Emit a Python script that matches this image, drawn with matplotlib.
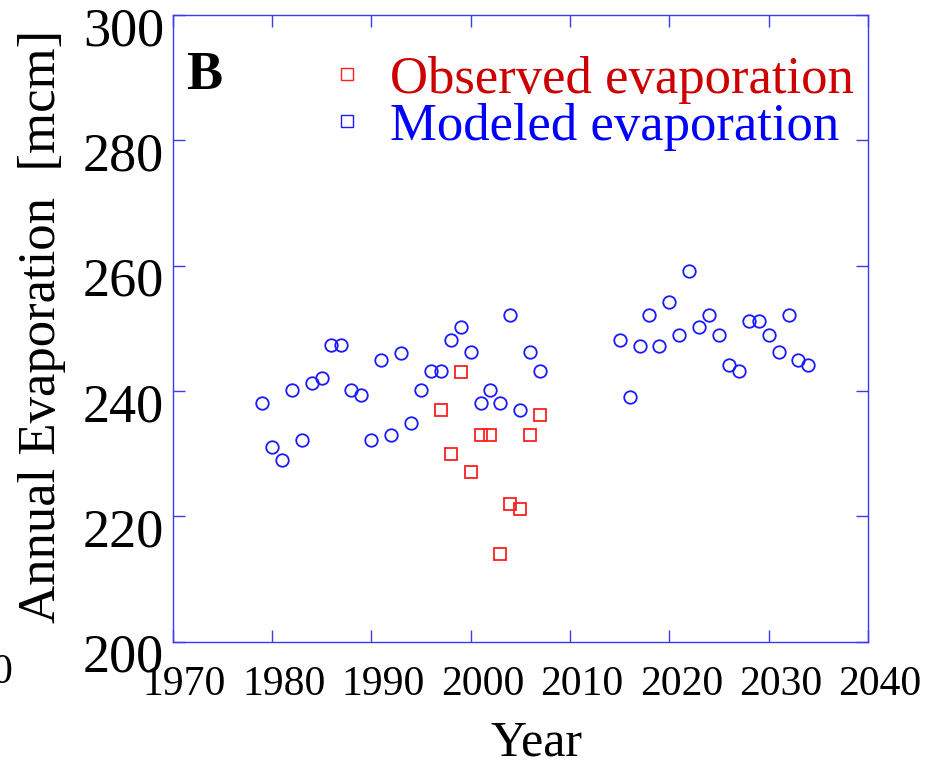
import matplotlib
matplotlib.use("Agg")
import matplotlib.pyplot as plt
from matplotlib.lines import Line2D
from matplotlib.transforms import ScaledTranslation

plt.rcParams["font.family"] = ["Liberation Serif", "DejaVu Serif"]

# modeled evaporation, two periods
mod_years_a = [1979, 1980, 1981, 1982, 1983, 1984, 1985, 1986, 1987, 1988,
               1989, 1990, 1991, 1992, 1993, 1994, 1995, 1996, 1997, 1998,
               1999, 2000, 2001, 2002, 2003, 2004, 2005, 2006, 2007]
mod_vals_a = [238.1, 231.1, 229.0, 240.1, 232.2, 241.2, 242.0, 247.3, 247.3, 240.1,
              239.3, 232.2, 245.0, 232.9, 246.0, 234.9, 240.1, 243.1, 243.1, 248.1,
              250.2, 246.2, 238.1, 240.1, 238.1, 252.1, 237.0, 246.2, 243.1]
mod_years_b = [2015, 2016, 2017, 2018, 2019, 2020, 2021, 2022, 2023, 2024,
               2025, 2026, 2027, 2028, 2029, 2030, 2031, 2032, 2033, 2034]
mod_vals_b = [248.1, 239.1, 247.1, 252.1, 247.1, 254.2, 249.0, 259.1, 250.2, 252.1,
              249.0, 244.1, 243.1, 251.1, 251.1, 249.0, 246.2, 252.1, 245.0, 244.1]

# observed evaporation
obs_years = [1997, 1998, 1999, 2000, 2001, 2002, 2003, 2004, 2005, 2006, 2007]
obs_vals = [237.0, 230.0, 243.0, 227.0, 233.0, 233.0, 214.0, 222.0, 221.1, 233.0, 236.1]

x_ticks = [1970, 1980, 1990, 2000, 2010, 2020, 2030, 2040]
y_ticks = [200, 220, 240, 260, 280, 300]

blue = "#1a1aff"
red = "#ff2020"
axis_blue = "#3a3af0"

fig = plt.figure(figsize=(9.36, 7.65), dpi=100)
ax = fig.add_axes([0.1843, 0.1614, 0.7431, 0.819])

ax.plot(mod_years_a + mod_years_b, mod_vals_a + mod_vals_b, linestyle="none",
        marker="o", markersize=9, markerfacecolor="none",
        markeredgecolor=blue, markeredgewidth=1.3)
ax.plot(obs_years, obs_vals, linestyle="none", marker="s", markersize=9,
        markerfacecolor="none", markeredgecolor=red, markeredgewidth=1.3)

ax.set_xlim(1970, 2040)
ax.set_ylim(200, 300)
ax.set_xticks(x_ticks)
ax.set_yticks(y_ticks)

for s in ax.spines.values():
    s.set_color(axis_blue)
    s.set_linewidth(1)
ax.tick_params(direction="in", length=8.6, width=1, color=axis_blue,
               top=True, right=True)
ax.tick_params(axis="x", labelsize=30, pad=17)
ax.tick_params(axis="y", labelsize=39, pad=6)

# labels sit a little off their ticks in the original
for lab in ax.get_xticklabels():
    lab.set_transform(lab.get_transform() + ScaledTranslation(0.12, 0, fig.dpi_scale_trans))
for lab in ax.get_yticklabels():
    lab.set_transform(lab.get_transform() + ScaledTranslation(0, -0.11, fig.dpi_scale_trans))

ax.set_xlabel("Year", fontsize=36)
ax.xaxis.set_label_coords(0.524, -0.125)
ax.set_ylabel("Annual Evaporation  [mcm]", fontsize=38)
ax.yaxis.set_label_coords(-0.153, 0.5036)

ax.text(0.0194, 0.882, "B", transform=ax.transAxes, fontsize=39,
        fontweight="bold", va="baseline", ha="left")

# clipped label from the neighbouring panel
fig.text(12 / 936, 1 - 673 / 765, "0", fontsize=30, ha="right", va="center")

handles = [
    Line2D([], [], linestyle="none", marker="s", markersize=8,
           markerfacecolor="none", markeredgecolor=red, markeredgewidth=1),
    Line2D([], [], linestyle="none", marker="s", markersize=8,
           markerfacecolor="none", markeredgecolor=blue, markeredgewidth=1),
]
leg = ax.legend(handles, ["Observed evaporation", "Modeled evaporation"],
                loc="upper left", bbox_to_anchor=(0.2322, 0.9346),
                frameon=False, fontsize=38, handlelength=0.5,
                handletextpad=0.56, labelspacing=-0.02, borderpad=0,
                borderaxespad=0)
for t, c in zip(leg.get_texts(), ["#cc0000", "#0000ff"]):
    t.set_color(c)

fig.savefig("out.png", dpi=100)
